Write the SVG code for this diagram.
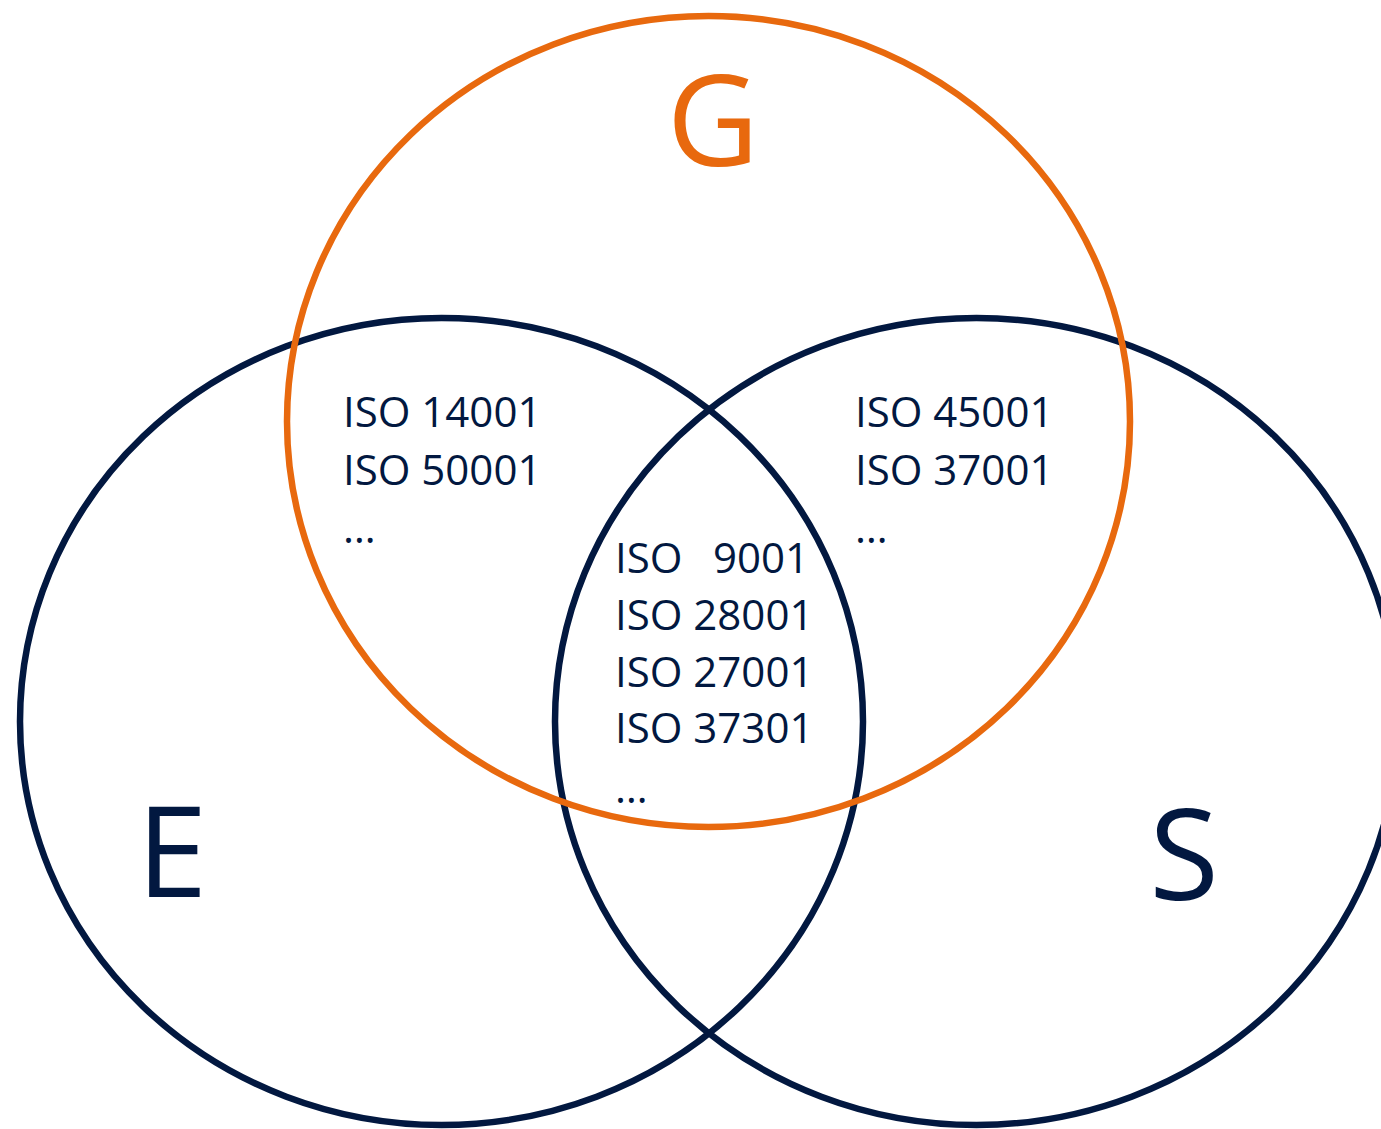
<svg xmlns="http://www.w3.org/2000/svg" width="1381" height="1129" viewBox="0 0 1381 1129">
<style>
.ring{fill:none;stroke-width:6.5}
.navy{stroke:#021840}
.orange{stroke:#E8690E}
.t{font-family:"Open Sans","Liberation Sans",sans-serif;font-size:42px;fill:#021840}
.big{font-family:"Open Sans","Liberation Sans",sans-serif;font-size:127px}
</style>
<rect width="1381" height="1129" fill="#ffffff"/>
<g id="circle-E"><ellipse class="ring navy" cx="441.5" cy="721.5" rx="421.5" ry="403.5"/></g>
<g id="circle-S"><ellipse class="ring navy" cx="976.5" cy="721.5" rx="421.5" ry="403.5"/></g>
<g id="circle-G"><ellipse class="ring orange" cx="708.5" cy="421.5" rx="421.5" ry="405.5"/></g>
<g id="label-G"><text class="big" x="713" y="166" text-anchor="middle" fill="#E8690E">G</text></g>
<g id="label-E"><text class="big" x="172" y="897" text-anchor="middle" fill="#021840">E</text></g>
<g id="label-S"><text class="big" x="1184" y="900" text-anchor="middle" fill="#021840">S</text></g>
<g id="EG">
<text class="t" x="343" y="427">ISO 14001</text>
<text class="t" x="343" y="485">ISO 50001</text>
<text class="t" x="343" y="543">…</text>
</g>
<g id="GS">
<text class="t" x="855" y="427">ISO 45001</text>
<text class="t" x="855" y="485">ISO 37001</text>
<text class="t" x="855" y="543">…</text>
</g>
<g id="EGS">
<text class="t" x="615" y="573">ISO<tspan x="713">9001</tspan></text>
<text class="t" x="615" y="630">ISO 28001</text>
<text class="t" x="615" y="687">ISO 27001</text>
<text class="t" x="615" y="743">ISO 37301</text>
<text class="t" x="615" y="803">…</text>
</g>
<g id="connectors"></g>
</svg>
